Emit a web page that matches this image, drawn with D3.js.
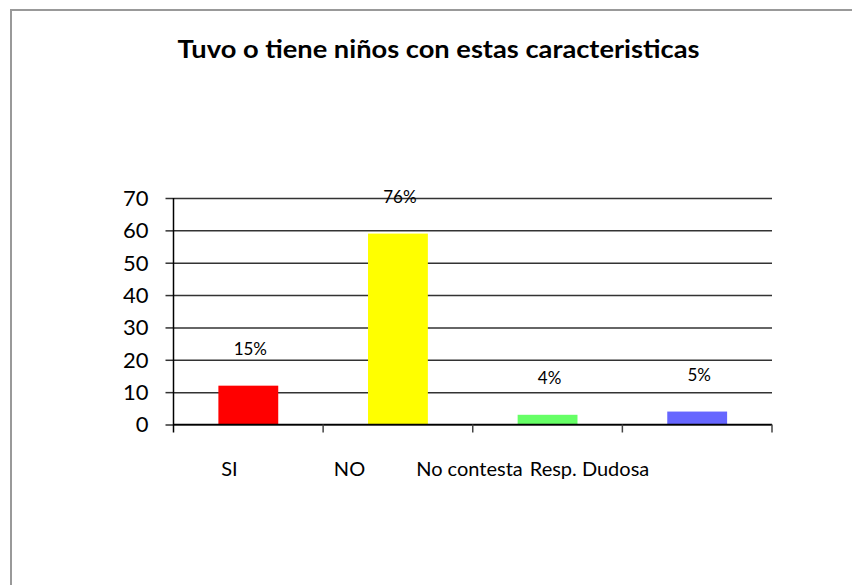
<!DOCTYPE html>
<html><head><meta charset="utf-8">
<script src="https://cdn.jsdelivr.net/npm/d3@7"></script>
<style>body{margin:0;background:#fff}svg{display:block}</style>
</head><body>
<svg id="c" width="852" height="585"></svg>
<script>
const title = "Tuvo o tiene niños con estas caracteristicas";
const categories = ["SI", "NO", "No contesta", "Resp. Dudosa"];
const values = [12, 59, 3, 4];
const pctLabels = ["15%", "76%", "4%", "5%"];
const colors = ["#ff0000", "#ffff00", "#66ff66", "#6666ff"];
const yTicks = [0, 10, 20, 30, 40, 50, 60, 70];

const svg = d3.select("#c");
const font = "Lato, 'Open Sans', sans-serif";
const m = {l: 173.5, r: 772, t: 198, b: 424.5};

svg.append("rect").attr("x", 11).attr("y", 10).attr("width", 900).attr("height", 700)
  .attr("fill", "#fff").attr("stroke", "#999").attr("stroke-width", 2);

svg.append("text").attr("x", 438.5).attr("y", 58).attr("text-anchor", "middle")
  .attr("font-family", font).attr("font-weight", "bold").attr("font-size", 24)
  .attr("textLength", 522).attr("lengthAdjust", "spacingAndGlyphs")
  .text(title);

const x = d3.scaleBand().domain(categories).range([m.l, m.r]).paddingInner(0).paddingOuter(0);
const y = d3.scaleLinear().domain([0, 70]).range([m.b, m.t]);

// y axis with gridlines
const yAxis = d3.axisLeft(y).tickValues(yTicks).tickSize(8).tickPadding(17);
const gy = svg.append("g").attr("transform", `translate(${m.l},0)`).call(yAxis);
gy.select(".domain").remove();
gy.selectAll(".tick line").attr("stroke", "#333").attr("stroke-width", 1.5);
gy.selectAll(".tick").append("line").attr("x1", 0).attr("x2", m.r - m.l)
  .attr("stroke", "#333").attr("stroke-width", 1.5);
gy.selectAll(".tick text").attr("font-family", font).attr("font-size", 22).attr("fill", "#000").attr("dy", "0.34em");

// bars
svg.selectAll(".bar").data(values).join("rect").attr("class", "bar")
  .attr("x", (d, i) => x(categories[i]) + x.bandwidth() * 0.3)
  .attr("width", x.bandwidth() * 0.4)
  .attr("y", d => y(d)).attr("height", d => y(0) - y(d))
  .attr("fill", (d, i) => colors[i]);

// axes lines
svg.append("line").attr("x1", m.l).attr("x2", m.r).attr("y1", y(0)).attr("y2", y(0)).attr("stroke", "#000").attr("stroke-width", 1.5);
svg.append("line").attr("x1", m.l).attr("x2", m.l).attr("y1", m.t).attr("y2", y(0) + 8).attr("stroke", "#000").attr("stroke-width", 1.5);
const xt = categories.map(c => x(c) + x.bandwidth());
svg.selectAll(".xt").data(xt).join("line").attr("class", "xt")
  .attr("x1", d => d).attr("x2", d => d).attr("y1", y(0)).attr("y2", y(0) + 8)
  .attr("stroke", "#444").attr("stroke-width", 1.5);

// x labels (positions as in reference)
const xl = d3.scalePoint().domain(categories).range([m.l + 56, m.l + 416]);
svg.selectAll(".xl").data(categories).join("text").attr("class", "xl")
  .attr("x", d => xl(d)).attr("y", 476).attr("text-anchor", "middle")
  .attr("font-family", font).attr("font-size", 20).attr("fill", "#000").text(d => d);

// data labels
svg.selectAll(".dl").data(values).join("text").attr("class", "dl")
  .attr("x", (d, i) => x(categories[i]) + x.bandwidth() / 2 + 2)
  .attr("y", d => y(d) - 31).attr("text-anchor", "middle")
  .attr("font-family", font).attr("font-size", 17).attr("fill", "#000")
  .text((d, i) => pctLabels[i]);
</script>
</body></html>
